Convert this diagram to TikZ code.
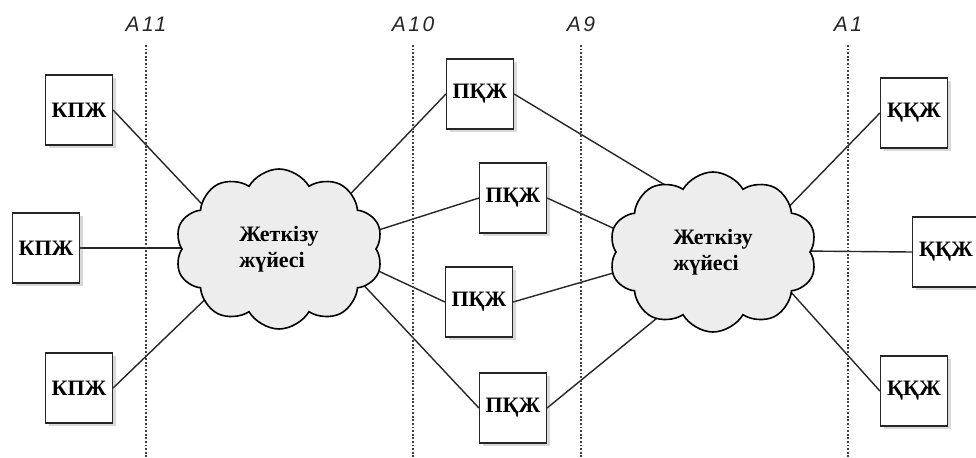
\documentclass[tikz,border=0pt]{standalone}
\usepackage{fontspec}
\setmainfont{Liberation Serif}
\newfontfamily\labelfont[LetterSpace=12]{Liberation Sans}
\usetikzlibrary{shapes.symbols,shadows,calc}
\pgfdeclarelayer{background}
\pgfsetlayers{background,main}

\tikzset{
  termbox/.style={draw=black!85, line width=0.6pt, fill=white,
    minimum width=33.5pt, minimum height=35pt, inner sep=0pt,
    font=\bfseries\fontsize{11}{12}\selectfont,
    drop shadow={shadow xshift=1.5pt, shadow yshift=-1.5pt, opacity=0.25, fill=black!60}},
  netcloud/.style={cloud, cloud puffs=10, cloud puff arc=120, cloud ignores aspect,
    draw=black, line width=0.8pt, fill=black!7,
    minimum width=104pt, minimum height=80pt, inner sep=0pt,
    align=left, font=\bfseries\fontsize{11}{13}\selectfont},
  link/.style={line width=0.7pt, black!85},
  boundary/.style={line width=0.6pt, black!75, dash pattern=on 0.9pt off 0.9pt},
  boundlabel/.style={font=\labelfont\itshape\fontsize{10.5}{12}\selectfont, black!85}
}

\begin{document}
\begin{tikzpicture}[x=0.5pt, y=-0.5pt]
\useasboundingbox (0,0) rectangle (976,457);
\clip (0,0) rectangle (976,457);

% boundary lines and their labels
\foreach \xx/\nm in {146/A11, 413/A10, 581/A9, 848/A1}{
  \node[boundlabel] (lbl\nm) at (\xx,24) {\nm};
  \coordinate (top\nm) at (\xx,45);
  \coordinate (bot\nm) at (\xx,457);
  \draw[boundary] (top\nm) -- (bot\nm);
}

% delivery networks
\node[netcloud] (c1) at (279,249) {Жеткізу\\жүйесі};
\node[netcloud] (c2) at (713,252) {Жеткізу\\жүйесі};

% terminals on the left
\node[termbox] (k1) at (79,110) {КПЖ};
\node[termbox] (k2) at (46,248) {КПЖ};
\node[termbox] (k3) at (79,388) {КПЖ};

% intermediate nodes
\node[termbox] (p1) at (480,94)  {ПҚЖ};
\node[termbox] (p2) at (513,198) {ПҚЖ};
\node[termbox] (p3) at (479,302) {ПҚЖ};
\node[termbox] (p4) at (513,408) {ПҚЖ};

% terminals on the right
\node[termbox] (q1) at (914,113) {ҚҚЖ};
\node[termbox] (q2) at (946,252) {ҚҚЖ};
\node[termbox] (q3) at (914,391) {ҚҚЖ};

% attachment points inside the clouds' outlines
\coordinate (a1) at (216,219);
\coordinate (a2) at (192,248);
\coordinate (a3) at (219,286);
\coordinate (a4) at (337,208);
\coordinate (a5) at (366,234);
\coordinate (a6) at (357,261);
\coordinate (a7) at (357,278);
\coordinate (b1) at (665,185);
\coordinate (b2) at (626,234);
\coordinate (b3) at (627,269);
\coordinate (b4) at (662,314);
\coordinate (b5) at (776,220);
\coordinate (b6) at (802,251);
\coordinate (b7) at (781,281);

\begin{pgfonlayer}{background}
  \draw[link] (k1.east) -- (a1);
  \draw[link] (k2.east) -- (a2);
  \draw[link] (k3.east) -- (a3);
  \draw[link] (p1.west) -- (a4);
  \draw[link] (p2.west) -- (a5);
  \draw[link] (p3.west) -- (a6);
  \draw[link] (p4.west) -- (a7);
  \draw[link] (p1.east) -- (b1);
  \draw[link] (p2.east) -- (b2);
  \draw[link] (p3.east) -- (b3);
  \draw[link] (p4.east) -- (b4);
  \draw[link] (q1.west) -- (b5);
  \draw[link] (q2.west) -- (b6);
  \draw[link] (q3.west) -- (b7);
\end{pgfonlayer}
\end{tikzpicture}
\end{document}
